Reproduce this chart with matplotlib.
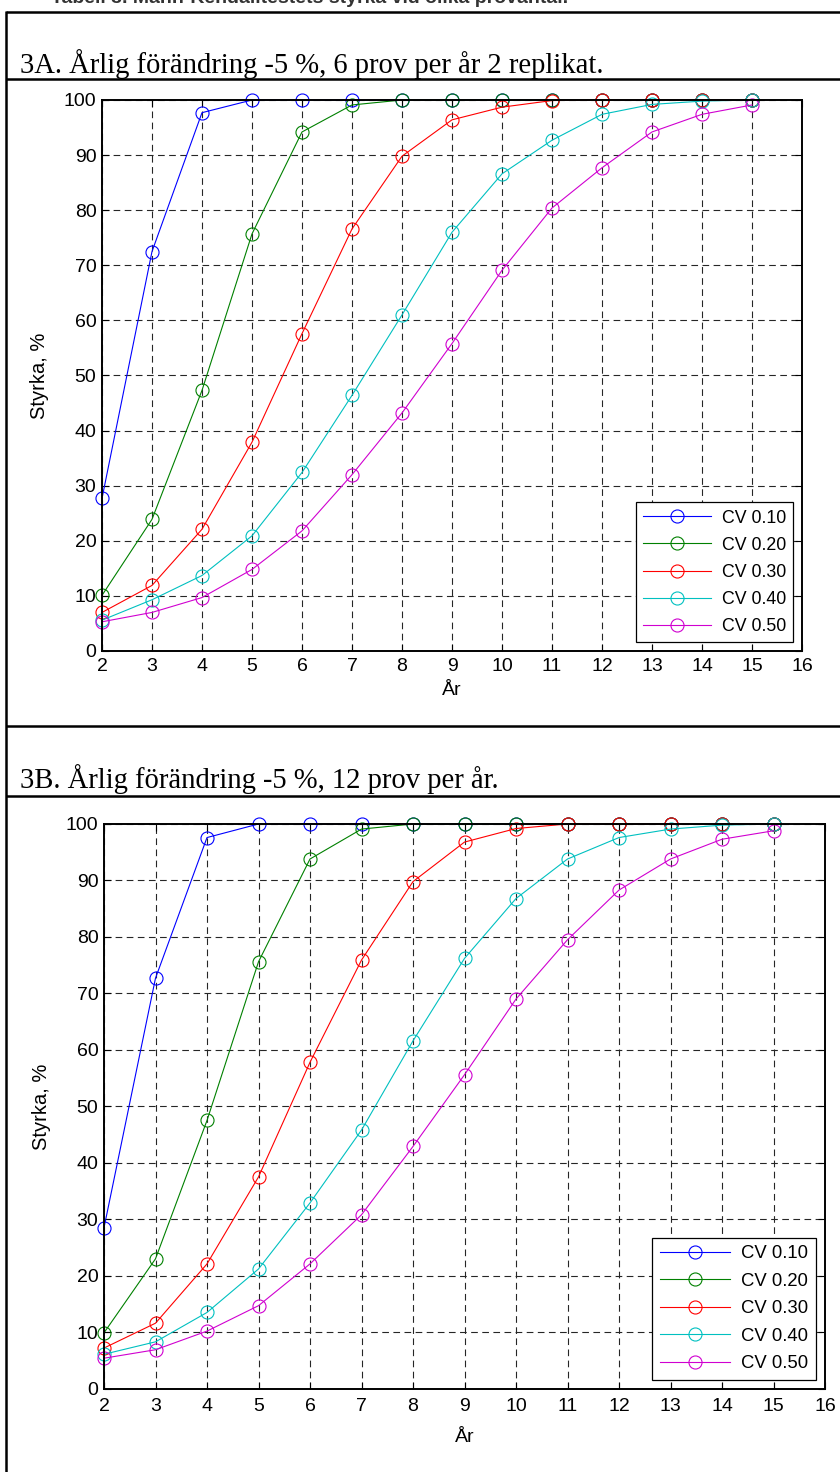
import matplotlib
matplotlib.use("Agg")
import matplotlib.pyplot as plt
from matplotlib.lines import Line2D

# ---- data -------------------------------------------------------------
years = [2, 3, 4, 5, 6, 7, 8, 9, 10, 11, 12, 13, 14, 15]
labels = ["CV 0.10", "CV 0.20", "CV 0.30", "CV 0.40", "CV 0.50"]

# 3A: 6 samples per year, 2 replicates
cv10_a = [27.7, 72.5, 97.7, 100, 100, 100, 100, 100, 100, 100, 100, 100, 100, 100]
cv20_a = [10.1, 23.9, 47.3, 75.7, 94.2, 99.1, 100, 100, 100, 100, 100, 100, 100, 100]
cv30_a = [7.0, 11.9, 22.1, 37.9, 57.6, 76.6, 89.8, 96.4, 98.7, 99.9, 100, 100, 100, 100]
cv40_a = [5.6, 9.3, 13.7, 20.9, 32.4, 46.4, 61.0, 76.0, 86.6, 92.7, 97.4, 99.2, 99.8, 100]
cv50_a = [5.3, 7.0, 9.7, 14.8, 21.8, 32.0, 43.2, 55.8, 69.1, 80.4, 87.7, 94.2, 97.4, 99.1]

# 3B: 12 samples per year
cv10_b = [28.5, 72.7, 97.6, 100, 100, 100, 100, 100, 100, 100, 100, 100, 100, 100]
cv20_b = [9.9, 23.0, 47.5, 75.6, 93.8, 99.1, 100, 100, 100, 100, 100, 100, 100, 100]
cv30_b = [7.2, 11.6, 22.1, 37.5, 57.8, 75.9, 89.8, 96.8, 99.2, 100, 100, 100, 100, 100]
cv40_b = [6.1, 8.3, 13.5, 21.2, 32.9, 45.8, 61.6, 76.2, 86.8, 93.8, 97.6, 99.1, 99.8, 100]
cv50_b = [5.4, 6.9, 10.2, 14.7, 22.1, 30.8, 42.9, 55.6, 69.0, 79.5, 88.3, 93.8, 97.3, 98.8]

x_ticks = list(range(2, 17))
y_ticks = list(range(0, 101, 10))

colors = ["#0000ff", "#008000", "#ff0000", "#00c0c0", "#d000d0"]

W, H = 840, 1472
fig = plt.figure(figsize=(W / 100, H / 100), dpi=100)

def fx(px):
    return px / W

def fy(py):
    return 1 - py / H

SANS = ["Liberation Sans", "DejaVu Sans"]
SERIF = ["Liberation Serif", "DejaVu Serif"]

# ---- document table frame ---------------------------------------------
def hline(py, x0=6, x1=W + 5, lw=1.8):
    fig.add_artist(Line2D([fx(x0), fx(x1)], [fy(py), fy(py)],
                          transform=fig.transFigure, color="black", lw=lw,
                          solid_capstyle="butt"))

def vline(px, y0, y1, lw=1.8):
    fig.add_artist(Line2D([fx(px), fx(px)], [fy(y0), fy(y1)],
                          transform=fig.transFigure, color="black", lw=lw,
                          solid_capstyle="butt"))

hline(11.5)
hline(79)
hline(726)
hline(796)
vline(6, 10.5, H + 5)

# caption running above the table (only its lower edge lies on the page)
fig.text(fx(51), fy(3), "Tabell 3. Mann-Kendalltestets styrka vid olika provantal.",
         family=SANS, fontweight="bold", fontsize=14, va="baseline", ha="left",
         color="0.2")

fig.text(fx(20.5), fy(72.7), "3A. Årlig förändring -5 %, 6 prov per år 2 replikat.",
         family=SERIF, fontsize=20.6, va="baseline", ha="left")
fig.text(fx(20.5), fy(788.3), "3B. Årlig förändring -5 %, 12 prov per år.",
         family=SERIF, fontsize=20.6, va="baseline", ha="left")

# ---- plots ---------------------------------------------------------------
def panel(rect, series, xpad, xlabelpad, legsize):
    ax = fig.add_axes(rect)
    for vals, c, lab in zip(series, colors, labels):
        ax.plot(years, vals, color=c, lw=0.8, marker="o", ms=9.4,
                mfc="none", mec=c, mew=0.8, label=lab, clip_on=False, zorder=3)
    ax.set_xlim(2, 16)
    ax.set_ylim(0, 100)
    ax.set_xticks(x_ticks)
    ax.set_yticks(y_ticks)
    ax.grid(True, color="0.15", linestyle=(0, (6, 4)), linewidth=0.8)
    ax.set_axisbelow(True)
    ax.tick_params(direction="in", top=True, right=True, length=5, width=0.8,
                   labelsize=14)
    ax.tick_params(axis="x", pad=xpad)
    ax.tick_params(axis="y", pad=4)
    for lab in ax.get_xticklabels() + ax.get_yticklabels():
        lab.set_family(SANS)
    for sp in ax.spines.values():
        sp.set_linewidth(1.4)
        sp.set_zorder(4)
    ax.set_xlabel("År", family=SANS, fontsize=14, labelpad=xlabelpad)
    ax.set_ylabel("Styrka, %", family=SANS, fontsize=14.5, labelpad=11)
    leg = ax.legend(loc="lower right", bbox_to_anchor=(0.987, 0.016),
                    borderaxespad=0, fancybox=False, framealpha=1,
                    edgecolor="black", prop={"family": SANS, "size": legsize},
                    handlelength=3.8, handletextpad=0.6, borderpad=0.4,
                    labelspacing=0.57)
    leg.get_frame().set_linewidth(0.9)
    leg.set_zorder(6)
    return ax

panel([fx(102), fy(651), fx(802) - fx(102), (651 - 100) / H],
      [cv10_a, cv20_a, cv30_a, cv40_a, cv50_a], xpad=5, xlabelpad=5,
      legsize=12.8)
panel([fx(104), fy(1388.7), fx(825) - fx(104), (1388.7 - 824) / H],
      [cv10_b, cv20_b, cv30_b, cv40_b, cv50_b], xpad=6.5, xlabelpad=10,
      legsize=13.3)

fig.savefig("out.png", dpi=100)
